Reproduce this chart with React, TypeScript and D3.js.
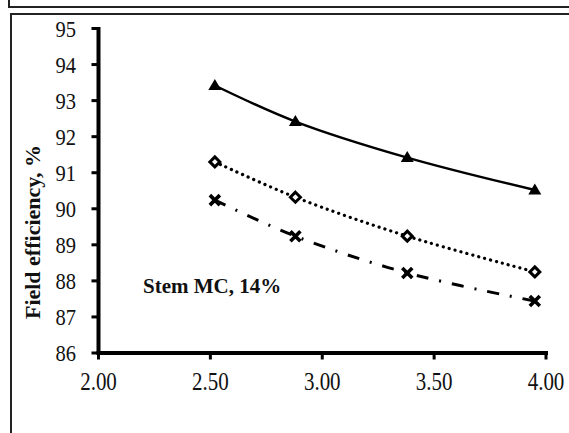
import React from "react";
import * as d3 from "d3";

const xValues = [2.52, 2.88, 3.38, 3.95];
const seriesTriangle = [93.42, 92.42, 91.42, 90.52];
const seriesDiamond = [91.3, 90.32, 89.24, 88.25];
const seriesCross = [90.24, 89.24, 88.22, 87.44];
const xTicks = [2.0, 2.5, 3.0, 3.5, 4.0];
const yTicks = [86, 87, 88, 89, 90, 91, 92, 93, 94, 95];
const yTitle = "Field efficiency, %";
const note = "Stem MC, 14%";

const FONT = "'Liberation Serif', 'Times New Roman', serif";

export default function App() {
  const x = d3.scaleLinear().domain([2, 4]).range([98.5, 546]);
  const y = d3.scaleLinear().domain([86, 95]).range([353, 28.5]);
  const line = d3
    .line<number>()
    .x((_, i) => x(xValues[i]))
    .y((d) => y(d))
    .curve(d3.curveCatmullRom.alpha(0.5));

  const tri = (cx: number, cy: number) =>
    `M${cx},${cy - 6.5}L${cx + 6.5},${cy + 4.5}L${cx - 6.5},${cy + 4.5}Z`;
  const dia = (cx: number, cy: number) =>
    `M${cx},${cy - 5}L${cx + 5},${cy}L${cx},${cy + 5}L${cx - 5},${cy}Z`;

  const ax = x(2);
  const ay = y(86);

  return (
    <svg
      width={569}
      height={433}
      style={{ position: "absolute", left: 0, top: 0, background: "#fff" }}
    >
      <rect x={0} y={0} width={569} height={433} fill="#fff" />
      {/* frames */}
      <path d="M9,0V7H569" fill="none" stroke="#222" strokeWidth={2} />
      <path d="M11,433V14H569" fill="none" stroke="#222" strokeWidth={2} />

      {/* y axis */}
      <rect x={ax - 2} y={y(95) - 1.5} width={4} height={ay - y(95) + 3} fill="#000" />
      {yTicks.map((t) => (
        <g key={"yt" + t}>
          <rect x={ax - 7} y={y(t) - 1.5} width={7} height={3} fill="#000" />
          <text
            transform={`translate(76,${y(t)}) scale(1,1.17)`}
            dy="0.34em"
            textAnchor="end"
            fontFamily={FONT}
            fontSize={20.5}
            fill="#111"
          >
            {t}
          </text>
        </g>
      ))}
      {/* x axis */}
      <rect x={ax - 2} y={ay - 2} width={x(4) - ax + 4} height={4} fill="#000" />
      {xTicks.map((t) => (
        <g key={"xt" + t}>
          <rect x={x(t) - 1.5} y={ay} width={3} height={6.5} fill="#000" />
          <text
            transform={`translate(${x(t)},390) scale(1,1.17)`}
            textAnchor="middle"
            fontFamily={FONT}
            fontSize={21}
            fill="#111"
          >
            {t.toFixed(2)}
          </text>
        </g>
      ))}

      {/* y title */}
      <text
        transform="translate(40,232) rotate(-90)"
        textAnchor="middle"
        fontFamily={FONT}
        fontWeight="bold"
        fontSize={22}
        fill="#111"
      >
        {yTitle}
      </text>

      {/* lines */}
      <path d={line(seriesTriangle) || ""} fill="none" stroke="#000" strokeWidth={2.4} />
      <path
        d={line(seriesDiamond) || ""}
        fill="none"
        stroke="#000"
        strokeWidth={3.2}
        strokeDasharray="0.1 6"
        strokeLinecap="round"
      />
      <path
        d={line(seriesCross) || ""}
        fill="none"
        stroke="#000"
        strokeWidth={3}
        strokeDasharray="12 11 2 11"
      />

      {/* markers */}
      {seriesTriangle.map((v, i) => (
        <path key={"t" + i} d={tri(x(xValues[i]), y(v))} fill="#000" />
      ))}
      {seriesDiamond.map((v, i) => (
        <path key={"d" + i} d={dia(x(xValues[i]), y(v))} fill="#fff" stroke="#000" strokeWidth={3} />
      ))}
      {seriesCross.map((v, i) => {
        const cx = x(xValues[i]);
        const cy = y(v);
        const s = 5;
        return (
          <path
            key={"c" + i}
            d={`M${cx - s},${cy - s}L${cx + s},${cy + s}M${cx + s},${cy - s}L${cx - s},${cy + s}`}
            stroke="#000"
            strokeWidth={3.6}
          />
        );
      })}

      {/* note */}
      <text x={143} y={293} fontFamily={FONT} fontWeight="bold" fontSize={21} fill="#111">
        {note}
      </text>
    </svg>
  );
}
